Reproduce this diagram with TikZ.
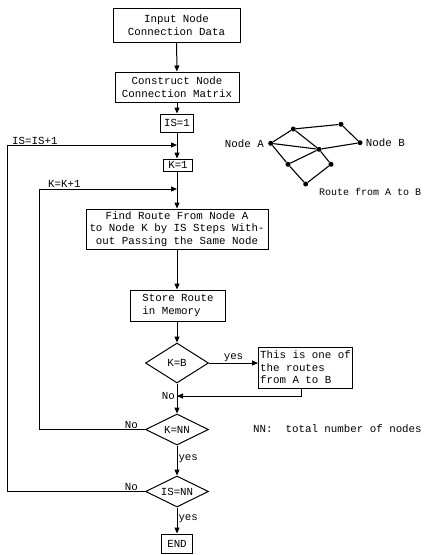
\documentclass[tikz,border=0pt]{standalone}
\usepackage{fontspec}
\setmonofont{Liberation Mono}
\usetikzlibrary{shapes.geometric,arrows.meta}
\begin{document}
\begin{tikzpicture}[x=1pt,y=-1pt,
 every node/.style={font=\ttfamily\fontsize{10.8}{12.6}\selectfont},
 box/.style={draw,line width=1pt,align=center,inner sep=1pt},
 dec/.style={draw,line width=1pt,shape=diamond,shape aspect=2,inner sep=0pt,minimum width=63pt,minimum height=31pt},
 line/.style={line width=1pt},
 arr/.style={line width=1pt,-{Triangle[length=6pt,width=5pt]}},
 lbl/.style={inner sep=1pt},
 gline/.style={line width=1.1pt},
 dot/.style={circle,fill,inner sep=0pt,minimum size=5pt}]
\useasboundingbox (0,0) rectangle (430,555);

% flowchart nodes
\node[box,minimum width=127pt,minimum height=34pt] (b1) at (176.5,25) {Input Node\\Connection Data};
\node[box,minimum width=124pt,minimum height=30pt] (b2) at (177,87) {Construct Node\\Connection Matrix};
\node[box,minimum width=33pt,minimum height=18pt] (is1) at (177,123) {IS=1};
\node[box,minimum width=29pt,minimum height=12pt] (k1) at (178,165) {K=1};
\node[box,minimum width=182pt,minimum height=40pt] (b3) at (177,229) {Find Route From Node A\\to Node K by IS Steps With-\\out Passing the Same Node};
\node[box,align=left,minimum width=95pt,minimum height=31pt] (st) at (178,305.5) {Store Route\\in Memory};
\node[dec,minimum height=40pt] (kb) at (177,363) {K=B};
\node[box,align=left,minimum width=94pt,minimum height=41pt,anchor=west] (rt) at (258,367.5) {This is one of\\the routes\\from A to B};
\node[dec] (knn) at (177,429.5) {K=NN};
\node[dec] (isnn) at (177,491.5) {IS=NN};
\node[box,minimum width=31pt,minimum height=19pt] (end) at (177,543.5) {END};

% junction coordinates
\coordinate (j1) at (177,145);
\coordinate (j2) at (177,189);
\coordinate (j3) at (177,396);
\coordinate (L1) at (7,145);
\coordinate (L2) at (39,189);

% main flow
\draw[arr] (b1) -- (b2);
\draw[arr] (b2) -- (is1);
\draw[arr] (is1.south) -- (is1.south |- k1.north);
\draw[arr] (is1.south |- k1.south) -- (b3.north);
\draw[arr] (b3) -- (b3.south |- st.north);
\draw[arr] (b3.south |- st.south) -- (kb);
\draw[arr] (kb.east) -- node[above,lbl]{yes} (kb.east -| rt.west);
\draw[arr] ([xshift=-4pt]rt.south) |- (j3);
\node[lbl,anchor=east] at ([xshift=-1pt]j3) {No};
\draw[arr] (kb) -- (knn);
\draw[arr] (knn) -- node[right,lbl,pos=0.45]{yes} (isnn);
\draw[arr] (isnn) -- node[right,lbl,pos=0.45]{yes} (end);

% loops
\draw[arr] (knn.west) -| (L2) -- (j2);
\node[lbl,anchor=south east] at ([xshift=-6pt]knn.west) {No};
\node[lbl,anchor=south west] at ([xshift=8pt]L2) {K=K+1};
\draw[arr] (isnn.west) -| (L1) -- (j1);
\node[lbl,anchor=south east] at ([xshift=-6pt]isnn.west) {No};
\node[inner sep=0pt,anchor=base west] at ([xshift=5pt,yshift=1pt]L1) {IS=IS+1};

% note
\node[lbl,anchor=west] (nn) at (252,429) {NN:\ \ total number of nodes};

% network sketch
\node[dot] (A) at (270.7,143.3) {};
\node[dot] (T1) at (293.3,129) {};
\node[dot] (T2) at (341,124.3) {};
\node[dot] (B) at (360,142.7) {};
\node[dot] (C) at (319,149.3) {};
\node[dot] (LL) at (288,164.3) {};
\node[dot] (RL) at (331,164.3) {};
\node[dot] (BT) at (305.7,184) {};
\draw[gline] (A) -- (T1) -- (T2) -- (B) -- (C) -- (A);
\draw[gline] (T1) -- (C) -- (LL) -- (A);
\draw[gline] (LL) -- (BT) -- (RL) -- (C);
\node[lbl,anchor=east] (la) at ([xshift=-3pt]A.west) {Node A};
\node[lbl,anchor=west] (lb) at ([xshift=2pt]B.east) {Node B};
\node[lbl,anchor=west,font=\ttfamily\fontsize{10}{12}\selectfont] (lr) at (318,192) {Route from A to B};
\end{tikzpicture}
\end{document}
